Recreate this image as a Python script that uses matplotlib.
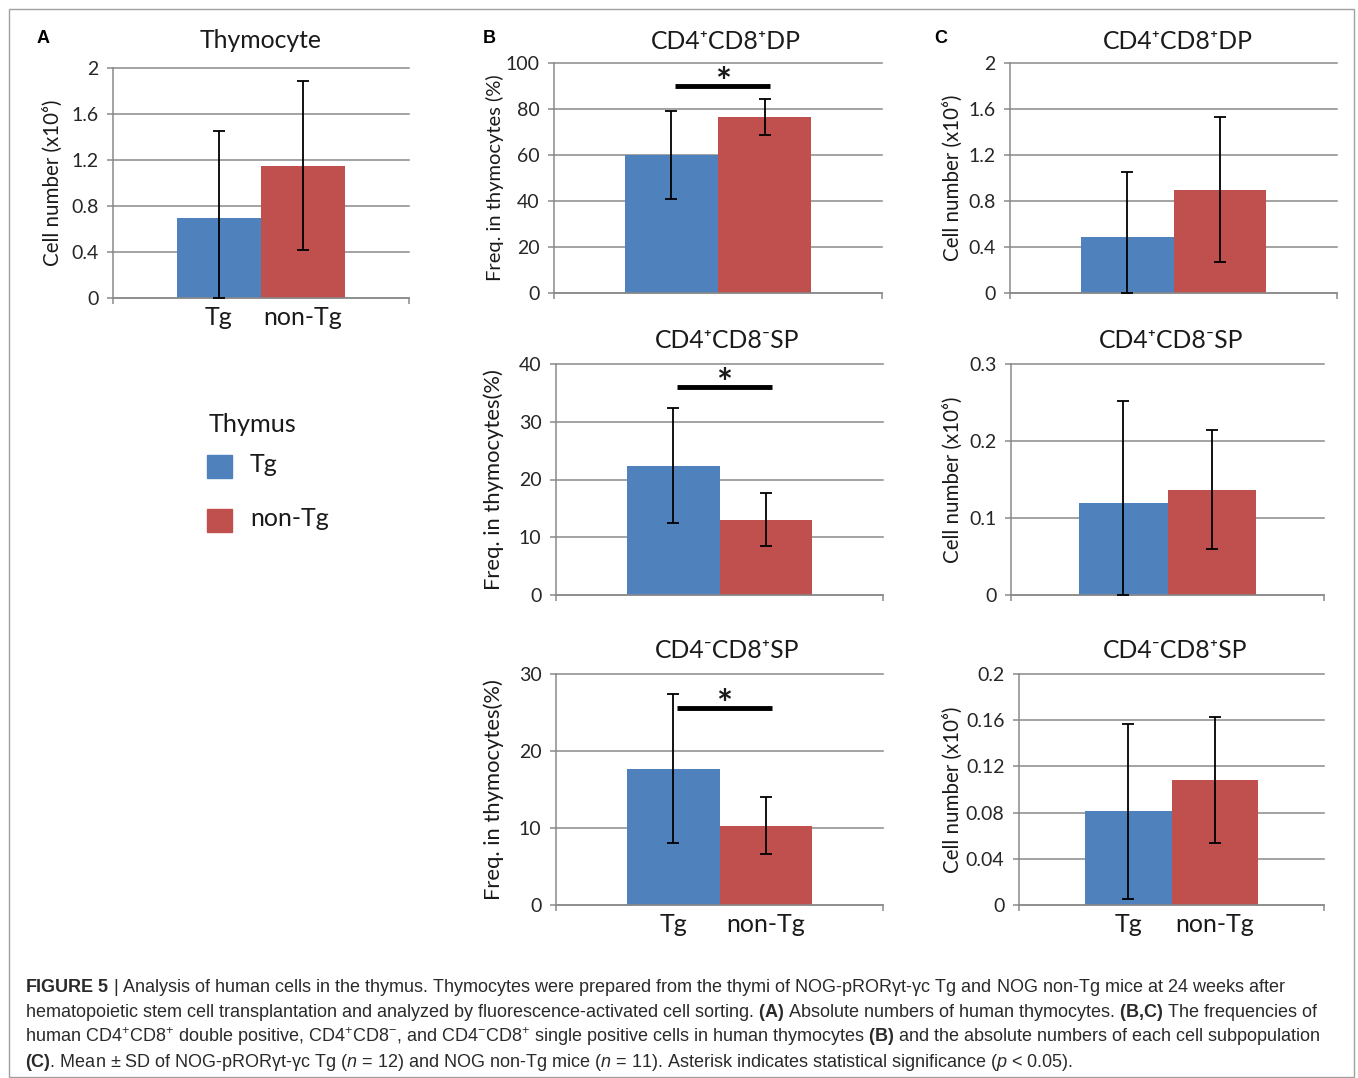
import matplotlib
matplotlib.use("Agg")
import matplotlib.pyplot as plt
from matplotlib.patches import Rectangle

# caption uses mathtext for the bold / italic bits
plt.rcParams['mathtext.fontset'] = 'custom'
plt.rcParams['mathtext.rm'] = 'Liberation Sans'
plt.rcParams['mathtext.bf'] = 'Liberation Sans:bold'
plt.rcParams['mathtext.it'] = 'Liberation Sans:italic'
plt.rcParams['font.family'] = ['Lato', 'DejaVu Sans']

groups = ['Tg', 'non-Tg']
colors = ['#4F81BD', '#C0504D']

# A: thymocytes, cell number (x10^6)
thymo_mean = [0.70, 1.15]
thymo_sd = [0.75, 0.735]

# B: frequency in thymocytes (%)
subsets = ['CD4⁺CD8⁺DP', 'CD4⁺CD8⁻SP', 'CD4⁻CD8⁺SP']
freq_mean = [[60.0, 76.5], [22.4, 13.0], [17.7, 10.3]]
freq_sd = [[19.0, 8.0], [10.0, 4.6], [9.7, 3.7]]
freq_ymax = [100, 40, 30]
freq_step = [20, 10, 10]
sig_y = [90, 36, 25.6]

# C: cell number (x10^6)
count_mean = [[0.49, 0.90], [0.120, 0.137], [0.081, 0.1085]]
count_sd = [[0.56, 0.63], [0.132, 0.077], [0.076, 0.0545]]
count_ymax = [2, 0.3, 0.2]
count_step = [0.4, 0.1, 0.04]

W, H = 1358, 1078
GRID = '#8a8a8a'
fig = plt.figure(figsize=(W / 100, H / 100), dpi=100)


def add_ax(l, t, r, b):
    return fig.add_axes([l / W, 1 - b / H, (r - l) / W, (b - t) / H])


def panel(ax, means, sds, ymax, step, title, ylabel, title_gap, label_px,
          show_x=False, sig=None, title_dx=0, label_size=14.8):
    x = [-0.5, 0.5]
    ax.bar(x, means, width=1.0, color=colors, zorder=2)
    lower = [min(s, m) for s, m in zip(sds, means)]
    ax.errorbar(x, means, yerr=[lower, sds], fmt='none', ecolor='black',
                elinewidth=1.3, capsize=4, capthick=1.3, zorder=3)
    ax.set_xlim(-1.76, 1.76)
    ax.set_ylim(0, ymax)
    n = int(round(ymax / step))
    ticks = [round(i * step, 4) for i in range(n + 1)]
    ax.set_yticks(ticks, [f'{t:g}' for t in ticks])
    ax.set_axisbelow(True)
    ax.yaxis.grid(True, color=GRID, lw=1.1)
    for gl in ax.get_ygridlines():
        gl.set_clip_on(False)
    for s in ['top', 'right']:
        ax.spines[s].set_visible(False)
    for s in ['left', 'bottom']:
        ax.spines[s].set_color(GRID)
        ax.spines[s].set_linewidth(1.1)
    ax.tick_params(axis='y', length=4.5, color=GRID, width=1.1, pad=6,
                   labelsize=14, labelcolor='#262626')
    ax.set_xticks([-1.76, 1.76], ['', ''])
    ax.tick_params(axis='x', which='major', length=4.5, color=GRID, width=1.1)
    if show_x:
        ax.set_xticks(x, groups, minor=True)
        ax.tick_params(axis='x', which='minor', length=0, pad=6,
                       labelsize=18, labelcolor='#1a1a1a')
    ax.annotate(title, xy=(0.5, 1), xycoords='axes fraction',
                xytext=(title_dx * 0.72, title_gap * 0.72),
                textcoords='offset points', ha='center', va='baseline',
                fontsize=17.8, color='#1a1a1a')
    ax.set_ylabel(ylabel, fontsize=label_size, color='#1a1a1a')
    l_px = ax.get_position().x0 * W
    w_px = ax.get_position().width * W
    ax.yaxis.set_label_coords((label_px - l_px) / w_px, 0.5)
    if sig is not None:
        ax.plot([-0.46, 0.56], [sig, sig], color='black', lw=3.5,
                solid_capstyle='butt', zorder=4)
        ax.text(0.05, sig + 0.01 * ymax, '*', ha='center', va='center',
                fontsize=27, fontweight='bold', color='#1a1a1a')


# A
axA = add_ax(113, 68, 409, 298)
panel(axA, thymo_mean, thymo_sd, 2, 0.4, 'Thymocyte',
      'Cell number (x10⁶)', 20, 63, show_x=True)

# B
b_boxes = [(554, 63, 882, 293), (556, 364, 883, 595), (556, 674, 883, 905)]
b_labels = ['Freq. in thymocytes (%)', 'Freq. in thymocytes(%)',
            'Freq. in thymocytes(%)']
b_sizes = [14.5, 15.8, 15.8]
b_gaps = [14, 16, 16]
for i in range(3):
    ax = add_ax(*b_boxes[i])
    panel(ax, freq_mean[i], freq_sd[i], freq_ymax[i], freq_step[i],
          subsets[i], b_labels[i], b_gaps[i], 504, show_x=(i == 2),
          sig=sig_y[i], title_dx=8, label_size=b_sizes[i])

# C
c_boxes = [(1010, 63, 1337, 293), (1011, 364, 1324, 595), (1019, 674, 1324, 905)]
c_gaps = [14, 16, 16]
for i in range(3):
    ax = add_ax(*c_boxes[i])
    panel(ax, count_mean[i], count_sd[i], count_ymax[i], count_step[i],
          subsets[i], 'Cell number (x10⁶)', c_gaps[i], 963,
          show_x=(i == 2), title_dx=4)

# legend for the thymus groups
fig.text(209 / W, 1 - 432 / H, 'Thymus', fontsize=18.2, va='baseline',
         color='#1a1a1a')
for i, g in enumerate(groups):
    top = 455 + 54 * i
    fig.add_artist(Rectangle((207 / W, 1 - (top + 23) / H), 25 / W, 23 / H,
                             transform=fig.transFigure, color=colors[i]))
    fig.text(250 / W, 1 - (top + 17) / H, g, fontsize=18, va='baseline',
             color='#1a1a1a')

# panel letters
for letter, xp in [('A', 37), ('B', 483), ('C', 934)]:
    fig.text(xp / W, 1 - 43 / H, letter, fontsize=13, fontweight='bold',
             family='Liberation Sans', va='baseline')

caption = [
    r"$\mathbf{FIGURE\ 5}$ | Analysis of human cells in the thymus. Thymocytes were prepared from the thymi of NOG-pRORγt-γc Tg and NOG non-Tg mice at 24 weeks after",
    r"hematopoietic stem cell transplantation and analyzed by fluorescence-activated cell sorting. $\mathbf{(A)}$ Absolute numbers of human thymocytes. $\mathbf{(B{,}C)}$ The frequencies of",
    r"human CD4$^{+}$CD8$^{+}$ double positive, CD4$^{+}$CD8$^{-}$, and CD4$^{-}$CD8$^{+}$ single positive cells in human thymocytes $\mathbf{(B)}$ and the absolute numbers of each cell subpopulation",
    r"$\mathbf{(C)}$. Mean ± SD of NOG-pRORγt-γc Tg ($\mathit{n}$ = 12) and NOG non-Tg mice ($\mathit{n}$ = 11). Asterisk indicates statistical significance ($\mathit{p}$ < 0.05).",
]
for i, line in enumerate(caption):
    fig.text(25 / W, 1 - (992 + 25 * i) / H, line, fontsize=13,
             family='Liberation Sans', va='baseline', color='#2a2a2a')

fig.add_artist(Rectangle((9 / W, 1 / H), 1345 / W, 1068 / H, fill=False,
                         ec='#a0a0a0', lw=1, transform=fig.transFigure))

fig.savefig('out.png', dpi=100)
